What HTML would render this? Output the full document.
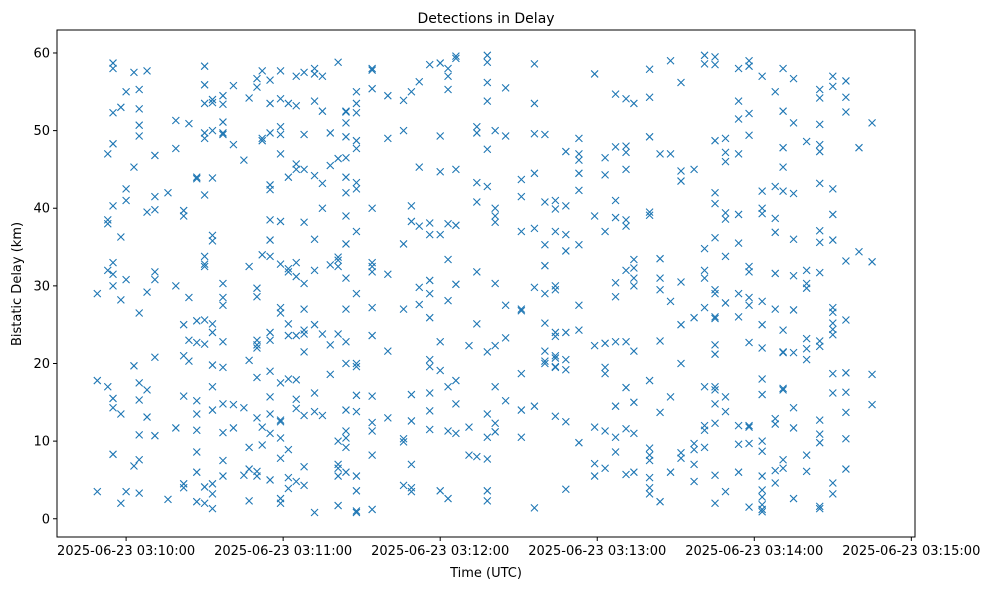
<!DOCTYPE html>
<html><head><meta charset="utf-8"><style>
html,body{margin:0;padding:0;background:#fff;}
svg text{font-family:"DejaVu Sans","Liberation Sans",sans-serif;fill:#000;}
</style></head><body>
<svg id="chart" width="989" height="590" xmlns="http://www.w3.org/2000/svg">
<rect width="989" height="590" fill="#fff"/>
<text x="486" y="23" font-size="14" text-anchor="middle">Detections in Delay</text>
<text x="486" y="577" font-size="13" text-anchor="middle">Time (UTC)</text>
<text transform="translate(21,284) rotate(-90)" font-size="13" text-anchor="middle">Bistatic Delay (km)</text>
<g id="marks"></g>
<g id="axes"></g>
</svg>
<script>
// seconds after 03:10:00 UTC for each column of detections
const groupTimes = [-11,-7,-5,-2,0,3,5,8,11,16,19,22,24,27,30,33,37,41,45,47,50,52,55,59,62,65,68,72,75,78,81,84,88,94,100,106,109,112,116,120,123,126,131,134,138,141,145,151,156,160,164,168,173,179,183,187,191,194,200,204,208,212,217,221,225,229,234,238,243,248,251,255,260,265,270,275,280,285];
// bistatic delay (km) for each column
const groupDelays = [
[17.8,3.5,29],[38.5,38,32,17,47],[58,58.7,52.3,48.3,40.3,31.5,30,33,8.3,15.5,14.3],[53,36.3,13.5,2,28.2],[42.5,41,30.8,3.5,55],
[57.5,45.3,19.7,6.8],[55.3,52.8,50.7,49.3,26.5,17.5,15.3,10.8,7.6,3.3],[57.7,39.5,29.2,16.6,13.1],[41.5,39.8,31.8,30.8,20.8,10.7,46.8],[2.5,42],
[47.7,11.7,51.3,30],[39.7,39,25,21,15.8,4.5,4],[50.9,28.5,20.3,23],[44,43.8,22.7,13.5,11.4,8.6,6,2.2,15.2,25.5],
[55.9,53.5,49.7,49,41.7,33.8,32.8,32.5,25.6,22.5,2,4.1,58.3],[54,53.6,50,35.8,36.5,25.1,24,17,14,4.5,3.2,1.3,19.8,43.9],
[54.5,53.4,51.1,49.5,49.7,30.3,28.5,27.5,22.8,19.5,14.8,11.1,7.5,5.5],[55.8,48.2,11.7,14.7],[46.2,14.3,5.6],[54.2,32.5,20.4,9.2,6.4,2.3],
[55.6,56.7,29.7,28.6,23,22,22.4,18.2,13,6.1,5.5],[49,48.7,34,11.8,9.5,57.7],[56.5,53.5,49.7,43,42.4,38.5,35.9,33.8,24,23,15.7,13.5,11,5,19],
[57.7,54.1,50.5,49.5,47,38.3,32.8,27.2,26.5,17.5,12.7,12.5,10.4,7.8,2.6,2],[53.5,44,32.2,31.8,25.1,23.6,18,8.9,5.3,3.9],
[57,53.2,45.7,45,31.2,23.6,17.9,15.4,14.2,4.8,33],[57.5,49.5,45,38.2,30.3,27,24.3,23.8,21.5,13.3,6.7,4.3],[58,57.3,53.8,44.2,36,32,25,16.2,13.8,0.8],
[57,52.5,43.2,40,23.8,13.3],[49.7,45.5,32.7,18.6,22.4],[46.4,33.7,33.3,32.5,23.8,10,6.5,5.5,1.7,7,58.8],
[52.4,52.5,51,49.2,46.5,42,39,35.4,31,27,22.8,20,14,10.4,9.2,6,11.3,44],[55,53.5,48.7,47.7,43.3,42.5,37,29,19.6,15.9,13.8,5.5,3.6,1,0.8,20,52.3],
[55.4,58,40,33,32.5,31.8,27.2,23.6,15.8,12.4,11.3,8.2,1.2,57.8],[54.5,49,31.5,21.6,13],[53.9,50,35.4,27,9.9,10.3,4.3],[4,3.5,40.3,38.3,12.6,16,7,55],
[56.3,45.3,37.7,27.6,29.8],[58.5,38.1,36.6,20.5,16.2,11.5,19.6,13.9,30.7,25.9,29],[58.7,44.7,36.6,19.1,3.6,22.8,49.3],[58,57,55.3,38,33.4,28.1,17,11.3,2.6],
[59.6,59.3,45,37.8,30.2,17.8,14.8,11],[22.3,11.8,8.2],[50.5,49.7,43.3,40.8,25.1,31.8,8],[58.8,59.7,56.2,53.8,47.6,42.8,21.5,13.5,10.5,7.7,2.3,3.6],
[50,38.2,39,40,30.3,22.3,17,11.2,12.3],[55.5,49.3,27.5,15.2,23.3],[43.7,41.5,37,27,26.8,18.7,10.5,14],[58.6,53.5,49.6,44.5,37.4,29.8,14.5,1.4],
[49.5,40.8,35.3,32.6,29,25.2,21.6,20.3,20],[41,37,30,29.5,24,23.5,21,20.7,19.6,19.5,13.2,39.9],[47.3,40.3,36.6,24,20.5,12.5,3.8,19.2,34.5],
[47,46.2,44.5,42.3,35.3,27.5,24.3,9.8,49],[57.3,39,22.3,11.8,7.1,5.5],[46.5,44.3,37,22.6,19.5,18.7,11.3,6.5],
[54.7,47.9,41,38.8,30.4,28.6,22.8,14.5,10.5,8.6],[54.1,48,47.2,38.5,37.7,32,22.8,16.9,11.6,5.7,45],[53.5,33.4,32.3,31,30,21.6,6,11,15],
[57.9,54.3,49.2,39.5,39.1,17.8,9.1,8.2,7.5,5.3,4,3.2],[47,33.5,31,29.5,22.9,13.7,2.2],[59,47,28,15.7,6],[56.2,44.8,43.5,30.5,25,20,7.8,8.5],
[45,25.9,8.9,4.8,9.7,7],[59.7,58.6,34.8,32,31,27.2,11.4,9.2,17,12],[59.5,58.5,48.7,42,40.6,36.2,22.4,21.2,16.6,14.8,12.3,5.6,2,29.5,29,26,25.8,17],
[49,47.2,46,39.4,38.6,33.8,15.7,13.8,3.5,27.8],[58,53.8,51.5,47,39.2,35.5,29,26,12,9.6,6],[59,58.3,52.2,49.4,32.5,31.8,28.5,27.5,22.7,12,11.8,1.5,9.7],
[57,42.2,40,39.3,28,25,22,18,16,10,8.7,5.5,3.7,1.2,0.9,1.8,2.8],[55,42.8,38.7,36.9,31.6,27,12.9,12.2,6.2,4.6],
[58,52.5,47.8,45.3,42.2,24.3,21.5,21.4,16.8,16.6,7.6,6.5],[56.7,51,41.9,36,31.3,26.9,21.4,14.3,11.7,2.6],[48.6,32,30.3,29.7,23.2,21.9,20.5,8.2,6.1],
[55.3,54.2,50.8,48.2,47.3,43.2,37.1,35.6,31.7,22.9,22.2,12.7,10.9,9.8,1.3,1.6],[57,55.7,42.5,39.2,35.9,27.2,26.6,25.2,24.4,23.7,18.7,16.2,4.6,3.2],
[56.4,54.3,52.4,33.2,25.6,18.8,16.3,13.7,10.3,6.4],[47.8,34.4],[51,33.1,18.6,14.7]
];
const yTicks = [0,10,20,30,40,50,60];
const xTickSeconds = [0,60,120,180,240,300];
const xTickLabels = ["2025-06-23 03:10:00","2025-06-23 03:11:00","2025-06-23 03:12:00","2025-06-23 03:13:00","2025-06-23 03:14:00","2025-06-23 03:15:00"];

const L=57,R=915,T=30,B=537;
const xMin=-26.4,xMax=301.4,yMin=-2.35,yMax=62.96;
const sx=v=>L+(v-xMin)/(xMax-xMin)*(R-L);
const sy=v=>B-(v-yMin)/(yMax-yMin)*(B-T);
const NS="http://www.w3.org/2000/svg";
const marks=document.getElementById('marks');
const axes=document.getElementById('axes');
function mk(tag,attrs,parent){const e=document.createElementNS(NS,tag);for(const k in attrs)e.setAttribute(k,attrs[k]);parent.appendChild(e);return e;}

groupTimes.forEach((t,i)=>{
  groupDelays[i].forEach(d=>{
    const x=sx(t),y=sy(d),s=3.5;
    const p=mk('path',{d:`M${x-s},${y-s}L${x+s},${y+s}M${x-s},${y+s}L${x+s},${y-s}`,stroke:'#1f77b4','stroke-width':1.1,fill:'none'},marks);
    
    
  });
});

const frame=mk('rect',{x:L,y:T,width:R-L,height:B-T,fill:'none',stroke:'#000','stroke-width':1},axes);


yTicks.forEach(v=>{
  const y=sy(v);
  mk('line',{x1:L-4,x2:L,y1:y,y2:y,stroke:'#000'},axes);
  const t=mk('text',{x:L-7,y:y+4.5,'font-size':13,'text-anchor':'end'},axes);
  t.textContent=v;
  
  
});
xTickSeconds.forEach((v,i)=>{
  const x=sx(v);
  mk('line',{x1:x,x2:x,y1:B,y2:B+4,stroke:'#000'},axes);
  const t=mk('text',{x:x,y:B+18,'font-size':13,'text-anchor':'middle'},axes);
  t.textContent=xTickLabels[i];
  
  
});
</script>
</body></html>
